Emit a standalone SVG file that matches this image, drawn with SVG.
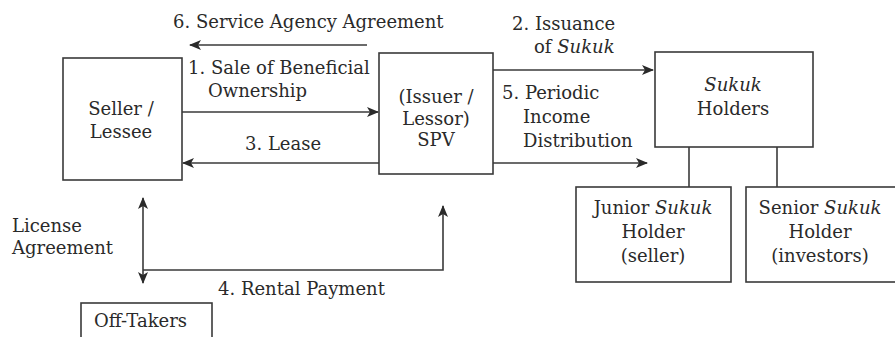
<svg xmlns="http://www.w3.org/2000/svg" width="895" height="337" viewBox="0 0 895 337">
<style>
.box{fill:#fff;stroke:#3a3a3a;stroke-width:1.6}
.ln{fill:none;stroke:#3a3a3a;stroke-width:1.6}
text{font-family:"DejaVu Serif","Liberation Serif",serif;font-size:18px;fill:#2a2a2a}
.c{text-anchor:middle}
.i{font-style:italic}
</style>
<defs>
<marker id="ah" markerWidth="12" markerHeight="10" refX="11" refY="5" orient="auto-start-reverse" markerUnits="userSpaceOnUse">
<path d="M0,0 L12,5 L0,10 L3,5 z" fill="#2a2a2a"/>
</marker>
</defs>
<rect width="895" height="337" fill="#fff"/>
<g id="connectors">
<line class="ln" x1="367" y1="45" x2="190" y2="45" marker-end="url(#ah)"/>
<line class="ln" x1="182" y1="112" x2="378" y2="112" marker-end="url(#ah)"/>
<line class="ln" x1="379" y1="163" x2="183" y2="163" marker-end="url(#ah)"/>
<line class="ln" x1="493" y1="70" x2="653" y2="70" marker-end="url(#ah)"/>
<line class="ln" x1="493" y1="163" x2="647" y2="163" marker-end="url(#ah)"/>
<line class="ln" x1="143" y1="198" x2="143" y2="283" marker-start="url(#ah)" marker-end="url(#ah)"/>
<path class="ln" d="M143,270 H443 V206" marker-end="url(#ah)"/>
<line class="ln" x1="689" y1="147" x2="689" y2="187"/>
<line class="ln" x1="777" y1="147" x2="777" y2="187"/>
<text x="173" y="28">6. Service Agency Agreement</text>
<text x="188" y="74">1. Sale of Beneficial</text>
<text x="208" y="97">Ownership</text>
<text x="245" y="150">3. Lease</text>
<text x="512" y="30">2. Issuance</text>
<text x="534" y="53">of <tspan class="i">Sukuk</tspan></text>
<text x="502" y="99">5. Periodic</text>
<text x="523" y="123">Income</text>
<text x="523" y="147">Distribution</text>
<text x="12" y="232">License</text>
<text x="12" y="254">Agreement</text>
<text x="218" y="295">4. Rental Payment</text>
</g>
<g id="seller">
<rect class="box" x="63" y="58" width="119" height="122"/>
<text class="c" x="121" y="115">Seller /</text>
<text class="c" x="121" y="138">Lessee</text>
</g>
<g id="spv">
<rect class="box" x="379" y="53" width="114" height="121"/>
<text class="c" x="436" y="103">(Issuer /</text>
<text class="c" x="436" y="125">Lessor)</text>
<text class="c" x="436" y="146">SPV</text>
</g>
<g id="holders">
<rect class="box" x="655" y="52" width="158" height="95"/>
<text class="c" x="733" y="91"><tspan class="i">Sukuk</tspan></text>
<text class="c" x="733" y="115">Holders</text>
</g>
<g id="junior">
<rect class="box" x="576" y="187" width="155" height="95"/>
<text class="c" x="653" y="214">Junior <tspan class="i">Sukuk</tspan></text>
<text class="c" x="653" y="238">Holder</text>
<text class="c" x="653" y="262">(seller)</text>
</g>
<g id="senior">
<rect class="box" x="746" y="187" width="156" height="95"/>
<text class="c" x="820" y="214">Senior <tspan class="i">Sukuk</tspan></text>
<text class="c" x="820" y="238">Holder</text>
<text class="c" x="820" y="262">(investors)</text>
</g>
<g id="offtakers">
<rect class="box" x="81" y="303" width="131" height="45"/>
<text x="94" y="327">Off-Takers</text>
</g>
</svg>
